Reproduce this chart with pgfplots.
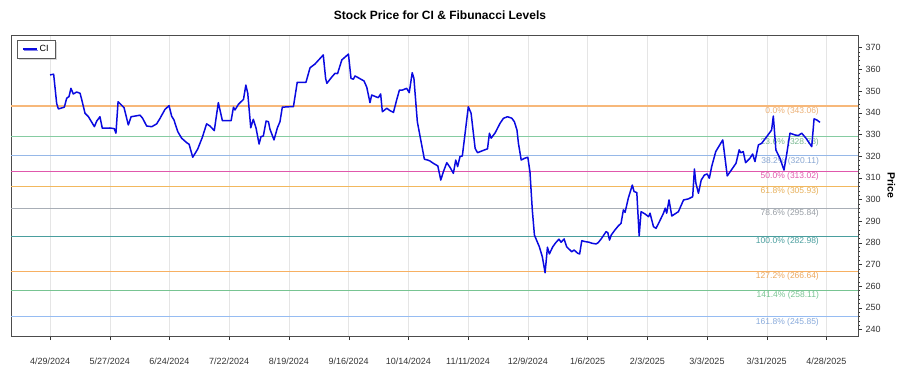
\documentclass[border=0pt]{standalone}
\usepackage{pgfplots}
\pgfplotsset{compat=1.18}
\usepackage{fontspec}
\setmainfont{Liberation Sans}
\usetikzlibrary{shadows}
\definecolor{fA}{HTML}{F7B87A}
\definecolor{fB}{HTML}{86CCA2}
\definecolor{fC}{HTML}{96B8E8}
\definecolor{fD}{HTML}{E058AC}
\definecolor{fE}{HTML}{F2B85E}
\definecolor{fF}{HTML}{A8AEB6}
\definecolor{fG}{HTML}{4A9E9E}
\definecolor{fH}{HTML}{F7B062}
\definecolor{fI}{HTML}{78C492}
\definecolor{fJ}{HTML}{96BCF2}
\definecolor{stock}{HTML}{0A0AE0}
\tikzset{fiblab/.style={anchor=north east, inner sep=1pt, font=\fontsize{8.5}{10}\selectfont}}
\begin{document}
\begin{tikzpicture}
\path[use as bounding box] (0,0) rectangle (900pt,375pt);
\node[font=\bfseries\fontsize{12}{14}\selectfont] at (440pt,360pt) {Stock Price for CI \& Fibunacci Levels};
\begin{axis}[
  at={(11pt,39pt)}, anchor=south west,
  scale only axis, width=847pt, height=301pt,
  xmin=-18.3, xmax=378.8, ymin=236.94, ymax=375.8,
  xtick={0,28,...,364},
  xticklabels={4/29/2024,5/27/2024,6/24/2024,7/22/2024,8/19/2024,9/16/2024,10/14/2024,11/11/2024,12/9/2024,1/6/2025,2/3/2025,3/3/2025,3/31/2025,4/28/2025},
  ytick={240,250,...,370},
  minor y tick num=4,
  xtick pos=bottom, ytick pos=right, yticklabel pos=right,
  tick align=outside, major tick length=4pt, minor tick length=2pt,
  xmajorgrids, major x grid style={black!10},
  axis line style={black!70},
  tick style={black!80},
  /pgf/number format/assume math mode=true,
  ticklabel style={font=\fontsize{9}{10}\selectfont, text=black!80},
  xticklabel style={yshift=-14pt},
  ylabel={Price},
  ylabel style={font=\bfseries\fontsize{10.5}{12}\selectfont, rotate=180},
  legend style={at={(0.007,0.983)}, anchor=north west, draw=black!65, fill=white,
    font=\fontsize{9}{10}\selectfont, drop shadow={shadow xshift=1.5pt, shadow yshift=-1.5pt, fill=black!30},
    inner xsep=5pt, inner ysep=3pt},
  legend image code/.code={\draw[#1, line width=1.5pt] (0pt,0pt) -- (14pt,0pt);},
  legend cell align=left,
]
\addplot[fA, line width=1.1pt, forget plot] coordinates {(-18.3,343.06) (378.8,343.06)};
\addplot[fB, line width=1.1pt, forget plot] coordinates {(-18.3,328.78) (378.8,328.78)};
\addplot[fC, line width=1.1pt, forget plot] coordinates {(-18.3,320.11) (378.8,320.11)};
\addplot[fD, line width=1.1pt, forget plot] coordinates {(-18.3,313.02) (378.8,313.02)};
\addplot[fE, line width=1.1pt, forget plot] coordinates {(-18.3,305.93) (378.8,305.93)};
\addplot[fF, line width=1.1pt, forget plot] coordinates {(-18.3,295.84) (378.8,295.84)};
\addplot[fG, line width=1.1pt, forget plot] coordinates {(-18.3,282.98) (378.8,282.98)};
\addplot[fH, line width=1.1pt, forget plot] coordinates {(-18.3,266.64) (378.8,266.64)};
\addplot[fI, line width=1.1pt, forget plot] coordinates {(-18.3,258.11) (378.8,258.11)};
\addplot[fJ, line width=1.1pt, forget plot] coordinates {(-18.3,245.85) (378.8,245.85)};
\node[fiblab, text=fA!95!black] at (axis cs:361,343.06) {0.0\% (343.06)};
\node[fiblab, text=fB!90!black] at (axis cs:361,328.78) {23.6\% (328.78)};
\node[fiblab, text=fC!90!black] at (axis cs:361,320.11) {38.2\% (320.11)};
\node[fiblab, text=fD] at (axis cs:361,313.02) {50.0\% (313.02)};
\node[fiblab, text=fE!95!black] at (axis cs:361,305.93) {61.8\% (305.93)};
\node[fiblab, text=fF!90!black] at (axis cs:361,295.84) {78.6\% (295.84)};
\node[fiblab, text=fG] at (axis cs:361,282.98) {100.0\% (282.98)};
\node[fiblab, text=fH!95!black] at (axis cs:361,266.64) {127.2\% (266.64)};
\node[fiblab, text=fI] at (axis cs:361,258.11) {141.4\% (258.11)};
\node[fiblab, text=fJ!90!black] at (axis cs:361,245.85) {161.8\% (245.85)};
\addplot[stock, line width=1.5pt, line join=round] coordinates {
(0,357.4) (1.7,357.7) (3.1,344.3) (3.9,341.7) (6.7,342.5) (7.8,346.6) (8.9,347.4) (9.8,351.2)
(10.9,348.6) (12.5,349.5) (14.1,348.9) (15.2,344.6) (16.4,339.7) (18,338.1) (20.8,333.5) (21.9,336.1)
(23.4,338.1) (24.5,332.8) (28.1,332.9) (30.1,332.6) (30.9,330.5) (31.9,345.0) (34.7,342.3) (36.7,334.3)
(38,338.1) (39.8,338.4) (42.2,338.8) (43.4,337.4) (45.3,333.8) (47.7,333.5) (50,334.8) (51.6,337.4)
(53.9,341.5) (55.8,343.2) (57,338.4) (58.1,336.6) (59.9,331.2) (61.7,328.2) (64.1,326.1) (65.2,325.4)
(66.9,319.4) (69.2,323.1) (70,325.1) (71.4,328.6) (73.4,334.8) (75,333.8) (77,331.7) (78.9,344.6)
(80.8,336.3) (84.9,336.3) (86,342.5) (86.7,341.2) (88.3,343.8) (90.7,346.1) (91.8,352.7) (92.7,348.9)
(94.1,333.0) (95.3,336.9) (96.6,332.8) (98,325.5) (98.9,328.9) (100,329.2) (101.3,336.1) (102.4,335.8)
(103.1,332.4) (105,327.4) (106.6,333.0) (107.8,335.8) (108.9,342.5) (112,342.7) (114.1,342.7) (115.9,354.0)
(118,354.0) (120,354.0) (121.9,360.7) (124.2,362.4) (128.1,366.6) (129.2,355.8) (129.8,353.5) (132,356.3)
(133.6,358.1) (134.8,358.0) (136.8,364.3) (139.9,367.0) (141.1,355.8) (142.2,355.4) (143,356.9) (144.5,356.1)
(147.2,354.6) (148.5,351.7) (150,344.6) (150.8,348.1) (152.8,347.3) (153.9,346.9) (155,348.6) (155.8,340.4)
(157.9,342.0) (159.4,340.9) (161,340.1) (162.5,345.8) (163.8,350.4) (165.2,350.4) (167.2,351.2) (168.4,349.2)
(169.8,358.4) (170.6,355.8) (172.2,335.8) (173.8,327.4) (175.5,318.5) (177.1,318.1) (178.1,317.7) (179.7,316.6)
(181.8,315.4) (183.2,308.9) (184.4,312.7) (186,316.9) (187.5,314.8) (189.1,312.0) (190.2,318.1) (191.1,315.1)
(192.2,319.7) (193.3,320.0) (194.5,329.7) (196.1,342.7) (197.4,339.7) (199.3,323.5) (200.4,321.5) (202.7,322.4)
(205.1,323.3) (206,330.5) (206.8,328.2) (208.7,330.7) (211,335.1) (212.6,337.4) (214.5,338.1) (216.5,337.4)
(217.7,335.8) (218.9,332.0) (219.6,325.8) (220.9,318.1) (222.4,318.9) (224,319.4) (225,312.7) (226.1,295.1)
(227.1,283.5) (228.2,280.9) (229.4,278.1) (230.8,273.5) (232.1,266.1) (233.2,277.9) (234.1,274.8) (235.7,278.1)
(237.1,280.0) (238.6,281.6) (239.6,280.2) (241,281.7) (242.2,278.1) (244.6,275.8) (245.7,276.6) (247.4,275.1)
(248.3,274.8) (249.3,280.9) (250.8,280.5) (252.7,280.2) (254.2,279.7) (256,279.4) (257,280.0) (258.6,282.0)
(260.7,285.1) (261.5,284.6) (262.3,281.2) (263.1,283.5) (264.8,285.8) (266.4,287.7) (267.7,288.9) (268.8,295.1)
(269.6,294.0) (271.1,300.5) (273,306.6) (273.8,303.6) (275.1,303.1) (276.2,283.1) (277.1,294.3) (279,293.2)
(280.6,292.0) (281.3,293.6) (282.9,287.4) (284.1,286.6) (285.7,289.7) (287.6,293.6) (288.4,295.9) (289.1,293.6)
(290.2,299.7) (291.5,292.3) (294.6,294.3) (297,299.7) (299.3,300.2) (301.3,301.2) (302.1,314.0) (302.8,307.4)
(304,302.8) (305.3,308.9) (306.8,311.2) (308.1,311.7) (309.1,309.7) (310.2,315.1) (312.1,322.0) (315.4,327.4)
(317.5,310.8) (321.6,316.6) (323.1,322.8) (323.8,321.5) (325,322.0) (326.1,316.9) (328.1,318.9) (329.4,320.9)
(330.5,317.4) (332.1,325.1) (333.6,325.8) (336,328.9) (337.5,330.9) (338.3,332.0) (339.1,338.4) (340.3,322.8)
(342.2,318.9) (344.1,313.5) (345.3,320.4) (346.9,330.5) (349.2,329.7) (350.8,329.4) (352.4,330.5) (354.4,328.2)
(357.1,324.3) (358.2,337.1) (359.5,336.6) (361,335.5)
};
\addlegendentry{CI}
\end{axis}
\end{tikzpicture}
\end{document}
